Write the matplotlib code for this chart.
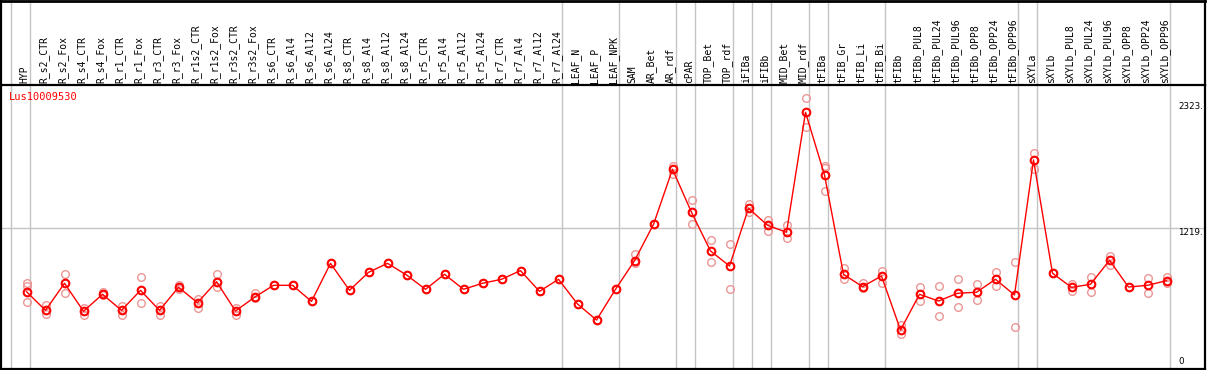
import matplotlib
matplotlib.use("Agg")
import matplotlib.pyplot as plt
from matplotlib.lines import Line2D

gene = "Lus10009530"

samples = ["HYP",
           "R_s2_CTR", "R_s2_Fox", "R_s4_CTR", "R_s4_Fox", "R_r1_CTR", "R_r1_Fox",
           "R_r3_CTR", "R_r3_Fox", "R_r1s2_CTR", "R_r1s2_Fox", "R_r3s2_CTR", "R_r3s2_Fox",
           "R_s6_CTR", "R_s6_Al4", "R_s6_Al12", "R_s6_Al24",
           "R_s8_CTR", "R_s8_Al4", "R_s8_Al12", "R_s8_Al24",
           "R_r5_CTR", "R_r5_Al4", "R_r5_Al12", "R_r5_Al24",
           "R_r7_CTR", "R_r7_Al4", "R_r7_Al12", "R_r7_Al24",
           "LEAF_N", "LEAF_P", "LEAF_NPK",
           "SAM", "AR_Bet", "AR_rdf", "cPAR", "TOP_Bet", "TOP_rdf",
           "iFIBa", "iFIBb", "MID_Bet", "MID_rdf",
           "tFIBa", "tFIB_Gr", "tFIB_Li", "tFIB_Bi",
           "tFIBb", "tFIBb_PUL8", "tFIBb_PUL24", "tFIBb_PUL96",
           "tFIBb_OPP8", "tFIBb_OPP24", "tFIBb_OPP96",
           "sXYLa", "sXYLb", "sXYLb_PUL8", "sXYLb_PUL24", "sXYLb_PUL96",
           "sXYLb_OPP8", "sXYLb_OPP24", "sXYLb_OPP96"]

means = [662,
         498, 736, 490, 639, 498, 674, 498, 701, 565, 750, 492, 613,
         718, 718, 577, 911,
         674, 832, 911, 809,
         683, 815, 683, 736,
         771, 847, 665, 771,
         554, 413, 683,
         934, 1254, 1738, 1360, 1020, 888,
         1395, 1246, 1184, 2239,
         1688, 815, 706, 800,
         325, 639, 580, 648, 657, 771, 633,
         1820, 824, 700, 727, 938, 703, 718, 759]

replicates = [[734, 712, 569],
              [542, 466], [815, 648], [522, 457], [655, 630], [538, 457], [788, 560],
              [538, 457], [720, 683], [598, 522], [818, 701], [516, 457], [654, 605],
              [718], [718], [577], [911],
              [674], [832], [911], [809],
              [683], [815], [683], [736],
              [771], [847], [665], [771],
              [554], [413], [683],
              [993, 911], [1254], [1767, 1700], [1467, 1260], [1116, 920], [1081, 683],
              [1433, 1360], [1292, 1198], [1246, 1131], [2362, 2112],
              [1767, 1747, 1547], [868, 771], [736, 692], [844, 736],
              [369, 287], [706, 583], [712, 446], [774, 525], [730, 586], [832, 715], [920, 349],
              [1877, 1738], [824], [732, 668], [788, 662], [976, 899], [703], [780, 648], [794, 736]]

group_ends = [-1, 0, 28, 31, 34, 35, 37, 38, 39, 41, 42, 45, 52, 53, 60]
ref_levels = [2323, 1219, 0]
ref_labels = ["2323.", "1219.", "0"]

W, H = 1209, 370
fig = plt.figure(figsize=(W / 100, H / 100), dpi=100)

# pixel geometry of the plot panel
px_left, px_right, px_top, px_bot = 1, 1205, 85, 369
ax = fig.add_axes([px_left / W, 1 - px_bot / H,
                   (px_right - px_left) / W, (px_bot - px_top) / H])

x0_px, dx_px = 26.5, 19.0
ax.set_xlim((px_left - x0_px) / dx_px, (px_right - x0_px) / dx_px)
upp = 8.79  # value units per pixel; zero at pixel 367
ax.set_ylim((367 - px_bot) * upp, (367 - px_top) * upp)
ax.set_xticks([])
ax.set_yticks([])
for s in ax.spines.values():
    s.set_color("black")
    s.set_linewidth(1.6)

head_frac = (px_bot - 0) / (px_bot - px_top)

# group separators spanning header and panel
for g in group_ends:
    ax.axvline(g + 0.18, ymin=0, ymax=head_frac, color="#c4c4c4", lw=1,
               clip_on=False, zorder=1)
ax.axhline(ref_levels[1], color="#c4c4c4", lw=1, zorder=1)

# outer frame of header
fig.add_artist(Line2D([px_left / W, px_left / W], [1 - px_top / H, 1], color="black", lw=1.6))
fig.add_artist(Line2D([px_right / W, px_right / W], [1 - px_top / H, 1], color="black", lw=1.6))
fig.add_artist(Line2D([px_left / W, px_right / W], [1 - 0.5 / H, 1 - 0.5 / H], color="black", lw=2))

xs = list(range(len(samples)))

# replicate points
for i, reps in enumerate(replicates):
    ax.plot([i] * len(reps), reps, linestyle="none", marker="o", markersize=5.5,
            markerfacecolor="none", markeredgecolor="#eb9696", markeredgewidth=1.0,
            zorder=2, clip_on=False)

ax.plot(xs, means, color="red", lw=1, zorder=3)
ax.plot(xs, means, linestyle="none", marker="o", markersize=5.5,
        markerfacecolor="none", markeredgecolor="red", markeredgewidth=1.5, zorder=4)

# sample labels
for i, name in enumerate(samples):
    ax.text(i - 0.1, (px_bot - 83) / (px_bot - px_top), name,
            transform=ax.get_xaxis_transform(), rotation=90, ha="center", va="bottom",
            fontsize=7, family="DejaVu Sans Mono", clip_on=False)

# gene name
ax.text((9 - x0_px) / dx_px, (367 - 97) * upp, gene, color="red", fontsize=7.5,
        family="DejaVu Sans Mono", ha="left", va="center")

# reference level labels
offsets = [4, 4, -5]
for lv, lab, off in zip(ref_levels, ref_labels, offsets):
    ax.text((1178 - x0_px) / dx_px, lv - off * upp, lab, fontsize=6.3,
            family="DejaVu Sans", ha="left", va="center")

fig.savefig("out.png", dpi=100)
